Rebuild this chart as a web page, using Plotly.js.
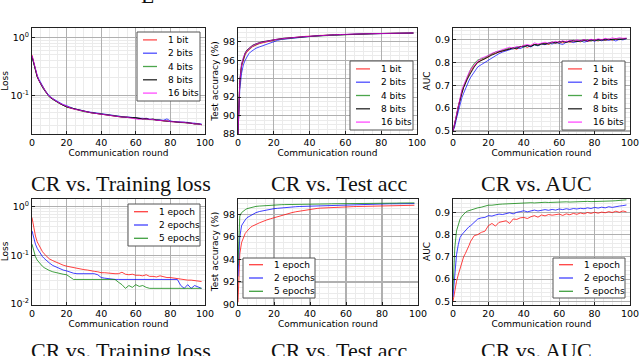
<!DOCTYPE html>
<html lang="en">
<head>
<meta charset="UTF-8">
<title>CR curves</title>
<script src="https://cdn.plot.ly/plotly-3.0.1.min.js"></script>
<style>
  body{margin:0;background:#fff;}
  #myDiv{width:640px;height:356px;}
</style>
</head>
<body>
<div id="myDiv"></div>
<script>
// communication rounds (dense at the start, every 2 after 10)
var rounds = [0,1,2,3,4,5,6,7,8,9,10,12,14,16,18,20,22,24,26,28,30,32,34,36,38,40,42,44,46,48,50,52,54,56,58,60,62,64,66,68,70,72,74,76,78,80,82,84,86,88,90,92,94,96,98];

var bitNames = ['1 bit','2 bits','4 bits','8 bits','16 bits'];
var epochNames = ['1 epoch','2 epochs','5 epochs'];
var captions = ['CR vs. Training loss','CR vs. Test acc','CR vs. AUC'];

// top row: quantization bits
var lossBit1 = [0.50,0.36,0.27,0.21,0.18,0.16,0.14,0.126,0.114,0.104,0.096,0.086,0.079,0.072,0.067,0.064,0.060,0.058,0.056,0.054,0.053,0.051,0.050,0.049,0.048,0.047,0.046,0.046,0.045,0.044,0.043,0.042,0.042,0.041,0.041,0.040,0.040,0.039,0.039,0.038,0.038,0.037,0.037,0.036,0.036,0.035,0.035,0.034,0.034,0.034,0.033,0.033,0.032,0.032,0.031];
var lossBit2 = [0.48,0.37,0.28,0.22,0.19,0.165,0.145,0.13,0.117,0.106,0.098,0.088,0.081,0.074,0.069,0.066,0.062,0.059,0.057,0.055,0.054,0.052,0.051,0.050,0.049,0.048,0.047,0.046,0.045,0.044,0.044,0.043,0.042,0.042,0.041,0.041,0.040,0.040,0.039,0.039,0.038,0.038,0.037,0.037,0.039,0.036,0.035,0.035,0.034,0.034,0.034,0.033,0.033,0.032,0.032];
var lossBit4 = [0.46,0.35,0.27,0.21,0.18,0.16,0.14,0.126,0.113,0.103,0.095,0.085,0.078,0.072,0.067,0.063,0.061,0.058,0.056,0.054,0.052,0.051,0.050,0.049,0.048,0.047,0.046,0.045,0.045,0.044,0.043,0.042,0.042,0.041,0.041,0.040,0.039,0.039,0.038,0.038,0.038,0.037,0.037,0.036,0.036,0.035,0.035,0.034,0.034,0.033,0.033,0.033,0.032,0.032,0.031];
var lossBit8 = [0.47,0.35,0.26,0.21,0.18,0.155,0.138,0.124,0.112,0.102,0.094,0.085,0.078,0.072,0.067,0.063,0.061,0.058,0.056,0.054,0.053,0.051,0.050,0.049,0.048,0.048,0.046,0.046,0.045,0.044,0.043,0.042,0.042,0.041,0.041,0.041,0.040,0.039,0.040,0.038,0.039,0.037,0.037,0.036,0.036,0.035,0.035,0.034,0.034,0.034,0.033,0.033,0.032,0.032,0.031];
var lossBit16 = [0.49,0.36,0.27,0.22,0.18,0.16,0.14,0.125,0.113,0.103,0.096,0.086,0.079,0.073,0.068,0.064,0.061,0.058,0.056,0.054,0.053,0.051,0.050,0.049,0.048,0.047,0.046,0.045,0.045,0.044,0.043,0.042,0.042,0.041,0.041,0.040,0.038,0.039,0.039,0.038,0.038,0.037,0.037,0.036,0.036,0.035,0.035,0.034,0.034,0.034,0.033,0.033,0.032,0.032,0.031];

var accBit1 = [88.0,93.5,95.3,96.1,96.6,96.9,97.1,97.3,97.45,97.55,97.65,97.8,97.9,98.0,98.1,98.2,98.25,98.3,98.35,98.4,98.45,98.5,98.5,98.55,98.6,98.6,98.65,98.65,98.7,98.7,98.72,98.75,98.75,98.78,98.8,98.8,98.82,98.83,98.85,98.85,98.86,98.87,98.88,98.88,98.9,98.9,98.9,98.92,98.92,98.93,98.93,98.94,98.94,98.95,98.95];
var accBit2 = [88.0,92.8,94.6,95.5,96.0,96.4,96.7,96.9,97.05,97.2,97.3,97.45,97.6,97.75,97.9,98.05,98.15,98.25,98.3,98.35,98.4,98.45,98.5,98.52,98.55,98.6,98.62,98.65,98.66,98.7,98.7,98.72,98.74,98.76,98.78,98.8,98.8,98.82,98.84,98.85,98.85,98.86,98.87,98.88,98.88,98.9,98.9,98.91,98.92,98.92,98.93,98.94,98.94,98.95,98.95];
var accBit4 = [88.0,93.6,95.4,96.2,96.7,97.0,97.2,97.35,97.5,97.6,97.7,97.85,97.95,98.05,98.12,98.2,98.25,98.3,98.35,98.38,98.42,98.45,98.5,98.52,98.55,98.58,98.6,98.62,98.63,98.65,98.68,98.7,98.72,98.74,98.76,98.78,98.8,98.82,98.83,98.84,98.85,98.86,98.87,98.88,98.89,98.9,98.9,98.91,98.92,98.92,98.93,98.93,98.94,98.94,98.95];
var accBit8 = [88.0,93.8,95.6,96.3,96.8,97.1,97.3,97.45,97.6,97.7,97.8,97.92,98.02,98.1,98.18,98.25,98.3,98.35,98.4,98.43,98.47,98.5,98.53,98.56,98.6,98.62,98.64,98.66,98.68,98.7,98.72,98.75,98.76,98.78,98.8,98.81,98.82,98.84,98.85,98.86,98.87,98.88,98.88,98.89,98.9,98.9,98.91,98.92,98.92,98.93,98.93,98.94,98.94,98.95,98.96];
var accBit16 = [88.0,93.7,95.5,96.3,96.75,97.05,97.25,97.4,97.55,97.65,97.75,97.88,97.98,98.08,98.15,98.22,98.28,98.33,98.38,98.42,98.46,98.5,98.52,98.55,98.58,98.6,98.63,98.65,98.67,98.7,98.72,98.74,98.75,98.78,98.8,98.8,98.82,98.83,98.85,98.86,98.86,98.87,98.88,98.89,98.9,98.9,98.91,98.92,98.92,98.93,98.93,98.94,98.95,98.95,98.96];

var aucBit1 = [0.50,0.53,0.57,0.61,0.64,0.67,0.69,0.71,0.73,0.745,0.76,0.785,0.80,0.81,0.815,0.825,0.835,0.84,0.845,0.85,0.855,0.86,0.862,0.857,0.868,0.872,0.865,0.874,0.878,0.875,0.88,0.883,0.878,0.886,0.884,0.889,0.885,0.893,0.887,0.89,0.894,0.889,0.896,0.891,0.895,0.897,0.893,0.899,0.895,0.9,0.897,0.901,0.899,0.903,0.904];
var aucBit2 = [0.50,0.52,0.555,0.59,0.62,0.645,0.665,0.685,0.70,0.72,0.735,0.76,0.78,0.79,0.80,0.81,0.82,0.83,0.838,0.845,0.85,0.855,0.86,0.865,0.86,0.868,0.872,0.867,0.876,0.872,0.88,0.877,0.884,0.88,0.887,0.883,0.878,0.888,0.892,0.886,0.891,0.895,0.888,0.893,0.897,0.892,0.898,0.894,0.899,0.896,0.9,0.893,0.901,0.898,0.903];
var aucBit4 = [0.50,0.535,0.575,0.615,0.645,0.675,0.695,0.715,0.735,0.75,0.77,0.795,0.81,0.815,0.82,0.83,0.838,0.845,0.848,0.853,0.858,0.862,0.858,0.866,0.87,0.866,0.873,0.87,0.877,0.874,0.879,0.884,0.88,0.886,0.889,0.884,0.891,0.888,0.893,0.89,0.894,0.891,0.896,0.899,0.893,0.898,0.895,0.9,0.897,0.902,0.898,0.9,0.903,0.901,0.904];
var aucBit8 = [0.50,0.53,0.565,0.605,0.64,0.665,0.69,0.71,0.725,0.74,0.755,0.78,0.80,0.808,0.818,0.826,0.832,0.838,0.846,0.85,0.853,0.858,0.864,0.86,0.868,0.87,0.874,0.87,0.878,0.876,0.882,0.879,0.885,0.889,0.884,0.89,0.892,0.887,0.893,0.896,0.891,0.895,0.898,0.894,0.899,0.896,0.9,0.897,0.902,0.899,0.901,0.903,0.9,0.904,0.905];
var aucBit16 = [0.50,0.535,0.575,0.615,0.65,0.68,0.70,0.72,0.74,0.755,0.77,0.79,0.805,0.818,0.823,0.83,0.84,0.845,0.85,0.856,0.86,0.866,0.862,0.87,0.866,0.874,0.878,0.873,0.885,0.88,0.884,0.888,0.883,0.889,0.892,0.887,0.894,0.89,0.896,0.892,0.898,0.894,0.899,0.896,0.901,0.897,0.903,0.899,0.905,0.901,0.907,0.903,0.908,0.905,0.906];

// bottom row: local epochs
var lossEp1 = [0.60,0.38,0.25,0.19,0.16,0.14,0.12,0.108,0.098,0.09,0.085,0.078,0.072,0.067,0.063,0.06,0.058,0.055,0.053,0.052,0.051,0.050,0.048,0.047,0.046,0.044,0.044,0.043,0.043,0.042,0.042,0.045,0.041,0.040,0.041,0.039,0.039,0.038,0.040,0.037,0.037,0.036,0.038,0.036,0.035,0.035,0.034,0.033,0.033,0.032,0.031,0.031,0.030,0.030,0.029];
var lossEp2 = [0.32,0.22,0.17,0.14,0.12,0.105,0.095,0.087,0.08,0.075,0.07,0.062,0.057,0.053,0.050,0.048,0.045,0.043,0.042,0.042,0.042,0.042,0.042,0.042,0.040,0.035,0.034,0.033,0.033,0.032,0.032,0.032,0.032,0.032,0.032,0.032,0.032,0.032,0.032,0.032,0.032,0.032,0.032,0.032,0.032,0.032,0.032,0.032,0.024,0.021,0.025,0.021,0.024,0.022,0.021];
var lossEp5 = [0.17,0.12,0.094,0.080,0.072,0.065,0.060,0.056,0.053,0.051,0.049,0.046,0.044,0.043,0.041,0.040,0.036,0.032,0.032,0.032,0.032,0.032,0.032,0.032,0.032,0.032,0.032,0.032,0.032,0.032,0.028,0.025,0.021,0.024,0.022,0.025,0.023,0.024,0.022,0.021,0.021,0.021,0.021,0.021,0.021,0.021,0.021,0.021,0.021,0.021,0.021,0.021,0.021,0.021,0.021];

var accEp1 = [90.2,94.5,95.5,96.0,96.3,96.5,96.7,96.85,96.95,97.05,97.1,97.25,97.4,97.5,97.6,97.7,97.8,97.9,98.0,98.08,98.15,98.22,98.28,98.33,98.38,98.45,98.5,98.52,98.55,98.57,98.6,98.62,98.63,98.64,98.65,98.66,98.67,98.68,98.69,98.7,98.7,98.71,98.72,98.73,98.74,98.75,98.75,98.76,98.77,98.77,98.78,98.78,98.79,98.8,98.8];
var accEp2 = [92.5,96.0,97.0,97.3,97.5,97.7,97.8,97.9,97.98,98.05,98.15,98.25,98.32,98.4,98.45,98.5,98.53,98.57,98.6,98.62,98.65,98.67,98.69,98.7,98.72,98.75,98.76,98.77,98.78,98.8,98.8,98.82,98.83,98.84,98.85,98.86,98.87,98.87,98.88,98.89,98.89,98.9,98.9,98.91,98.91,98.92,98.92,98.93,98.93,98.94,98.94,98.94,98.95,98.95,98.95];
var accEp5 = [93.5,97.85,98.15,98.3,98.4,98.5,98.55,98.6,98.63,98.66,98.7,98.73,98.76,98.78,98.8,98.82,98.84,98.85,98.86,98.86,98.87,98.88,98.88,98.89,98.89,98.9,98.9,98.91,98.91,98.92,98.92,98.93,98.93,98.94,98.94,98.95,98.95,98.95,98.96,98.96,98.96,98.97,98.97,98.97,98.98,98.98,98.98,98.99,98.99,98.99,99.0,99.0,99.0,99.01,99.01];

var aucEp1 = [0.50,0.55,0.59,0.62,0.65,0.675,0.70,0.715,0.73,0.75,0.77,0.795,0.80,0.81,0.815,0.84,0.85,0.838,0.855,0.86,0.862,0.85,0.87,0.868,0.875,0.877,0.872,0.88,0.885,0.878,0.888,0.884,0.89,0.887,0.89,0.892,0.886,0.893,0.889,0.895,0.891,0.897,0.893,0.899,0.895,0.9,0.896,0.901,0.898,0.903,0.899,0.905,0.9,0.906,0.902];
var aucEp2 = [0.52,0.62,0.71,0.755,0.787,0.80,0.81,0.82,0.83,0.835,0.84,0.855,0.87,0.875,0.877,0.885,0.883,0.888,0.892,0.89,0.895,0.898,0.893,0.9,0.903,0.907,0.902,0.905,0.91,0.906,0.908,0.912,0.909,0.913,0.91,0.915,0.912,0.916,0.913,0.917,0.915,0.918,0.916,0.92,0.917,0.922,0.919,0.923,0.92,0.925,0.922,0.926,0.928,0.93,0.933];
var aucEp5 = [0.55,0.74,0.817,0.85,0.87,0.882,0.892,0.899,0.905,0.908,0.91,0.915,0.92,0.923,0.927,0.932,0.932,0.935,0.936,0.937,0.938,0.938,0.94,0.939,0.941,0.942,0.941,0.943,0.942,0.944,0.944,0.945,0.944,0.945,0.946,0.945,0.946,0.947,0.946,0.947,0.948,0.947,0.948,0.949,0.948,0.948,0.949,0.95,0.949,0.95,0.951,0.952,0.953,0.955,0.956];

var bitColors = ['rgba(255,0,0,0.7)','rgba(0,0,255,0.7)','rgba(0,128,0,0.7)','rgba(0,0,0,0.85)','rgba(255,0,255,0.7)'];
var epochColors = ['rgba(255,0,0,0.75)','rgba(0,0,255,0.75)','rgba(0,128,0,0.75)'];

var W = 640, H = 356;
function px(x){ return x / W; }
function py(y){ return 1 - y / H; }

// plot boxes in pixels: left, right, top, bottom
var boxes = [[32,205,28,134],[238,417,28,134],[453,630,28,134],
             [32,205,198.5,304.5],[238,418,198.5,304.5],[453,630,198.5,304.5]];
// legend boxes in pixels: x0, y0, x1, y1
var legBoxes = [[137,32,200,101],[350,61,413,130],[562,61,625,130],
                [128,204,200,246],[243,258,315,298],[553,258,625,298]];

var panels = [
  {series:[lossBit1,lossBit2,lossBit4,lossBit8,lossBit16], names:bitNames, colors:bitColors, kind:'loss', range:[-1.67,0.165]},
  {series:[accBit1,accBit2,accBit4,accBit8,accBit16], names:bitNames, colors:bitColors, kind:'acc', range:[88,99.5]},
  {series:[aucBit1,aucBit2,aucBit4,aucBit8,aucBit16], names:bitNames, colors:bitColors, kind:'auc', range:[0.487,0.95]},
  {series:[lossEp1,lossEp2,lossEp5], names:epochNames, colors:epochColors, kind:'loss', range:[-2.01,0.17]},
  {series:[accEp1,accEp2,accEp5], names:epochNames, colors:epochColors, kind:'acc', range:[90,99.4]},
  {series:[aucEp1,aucEp2,aucEp5], names:epochNames, colors:epochColors, kind:'auc', range:[0.486,0.962]}
];

var minorLog = [];
for (var d = -3; d <= 0; d++) {
  for (var m = 2; m <= 9; m++) minorLog.push(m * Math.pow(10, d));
}

var tickFont = {family:'DejaVu Sans', size:9.5, color:'#000'};
var titleFont = {family:'DejaVu Sans', size:9, color:'#000'};

function baseAxis(){
  return {
    showline:true, linecolor:'#222', linewidth:1, mirror:true,
    ticks:'inside', ticklen:3, tickcolor:'#222',
    showgrid:true, gridcolor:'#b0b0b0', gridwidth:1.2, zeroline:false,
    tickfont:tickFont,
    minor:{showgrid:true, gridcolor:'#ebebeb', gridwidth:1}
  };
}

var data = [];
var layout = {
  width:W, height:H,
  margin:{l:0, r:0, t:0, b:0},
  paper_bgcolor:'#fff', plot_bgcolor:'#fff',
  showlegend:false,
  shapes:[], annotations:[]
};

panels.forEach(function(p, i){
  var id = i === 0 ? '' : String(i + 1);
  var b = boxes[i];

  p.series.forEach(function(s, k){
    data.push({
      x:rounds, y:s, name:p.names[k],
      xaxis:'x' + id, yaxis:'y' + id,
      type:'scatter', mode:'lines',
      line:{color:p.colors[k], width:1}
    });
  });

  var xa = baseAxis();
  xa.domain = [px(b[0]), px(b[1])];
  xa.anchor = 'y' + id;
  xa.range = [0, 100];
  xa.tick0 = 0; xa.dtick = 20;
  xa.minor.dtick = 5;
  xa.title = {text:'Communication round', font:titleFont, standoff:1};
  layout['xaxis' + id] = xa;

  var ya = baseAxis();
  ya.domain = [py(b[3]), py(b[2])];
  ya.anchor = 'x' + id;
  ya.range = p.range;
  if (p.kind === 'loss') {
    ya.type = 'log';
    ya.tickmode = 'array';
    ya.tickvals = [0.01, 0.1, 1];
    ya.ticktext = ['10<sup>-2</sup>','10<sup>-1</sup>','10<sup>0</sup>'];
    ya.minor.tickmode = 'array';
    ya.minor.tickvals = minorLog;
    ya.title = {text:'Loss', font:titleFont, standoff:2};
  } else if (p.kind === 'acc') {
    ya.tick0 = 88; ya.dtick = 2;
    ya.minor.dtick = 0.5;
    ya.title = {text:'Test accuracy (%)', font:titleFont, standoff:2};
  } else {
    ya.tick0 = 0.5; ya.dtick = 0.1;
    ya.minor.dtick = 0.02;
    ya.title = {text:'AUC', font:titleFont, standoff:2};
  }
  layout['yaxis' + id] = ya;

  // matplotlib style legend box
  var lb = legBoxes[i];
  layout.shapes.push({type:'rect', xref:'paper', yref:'paper',
    x0:px(lb[0]), x1:px(lb[2]), y0:py(lb[3]), y1:py(lb[1]),
    fillcolor:'#fff', line:{color:'#555', width:1}, layer:'above'});
  var n = p.names.length, step = 13.3;
  var first = lb[1] + (lb[3] - lb[1] - step * (n - 1)) / 2;
  p.names.forEach(function(nm, k){
    var yy = first + k * step;
    layout.shapes.push({type:'line', xref:'paper', yref:'paper',
      x0:px(lb[0] + 6), x1:px(lb[0] + 20), y0:py(yy), y1:py(yy),
      line:{color:p.colors[k], width:1.3}, layer:'above'});
    layout.annotations.push({xref:'paper', yref:'paper', x:px(lb[0] + 29), y:py(yy),
      xanchor:'left', yanchor:'middle', showarrow:false, text:nm,
      font:{family:'DejaVu Sans', size:9, color:'#000'}});
  });
});

// sub-figure captions (second copy is cut by the page bottom)
var capX = [121, 339, 536];
[183, 350].forEach(function(cy){
  captions.forEach(function(c, k){
    layout.annotations.push({xref:'paper', yref:'paper', x:px(capX[k]), y:py(cy),
      xanchor:'center', yanchor:'middle', showarrow:false, text:c,
      font:{family:'Liberation Serif', size:22, color:'#111'}});
  });
});
// fragment of text above the figure
layout.annotations.push({xref:'paper', yref:'paper', x:px(147), y:py(-4),
  xanchor:'center', yanchor:'middle', showarrow:false, text:'L',
  font:{family:'Liberation Serif', size:22, color:'#111'}});

Plotly.newPlot('myDiv', data, layout, {displayModeBar:false, staticPlot:true});
</script>
</body>
</html>
